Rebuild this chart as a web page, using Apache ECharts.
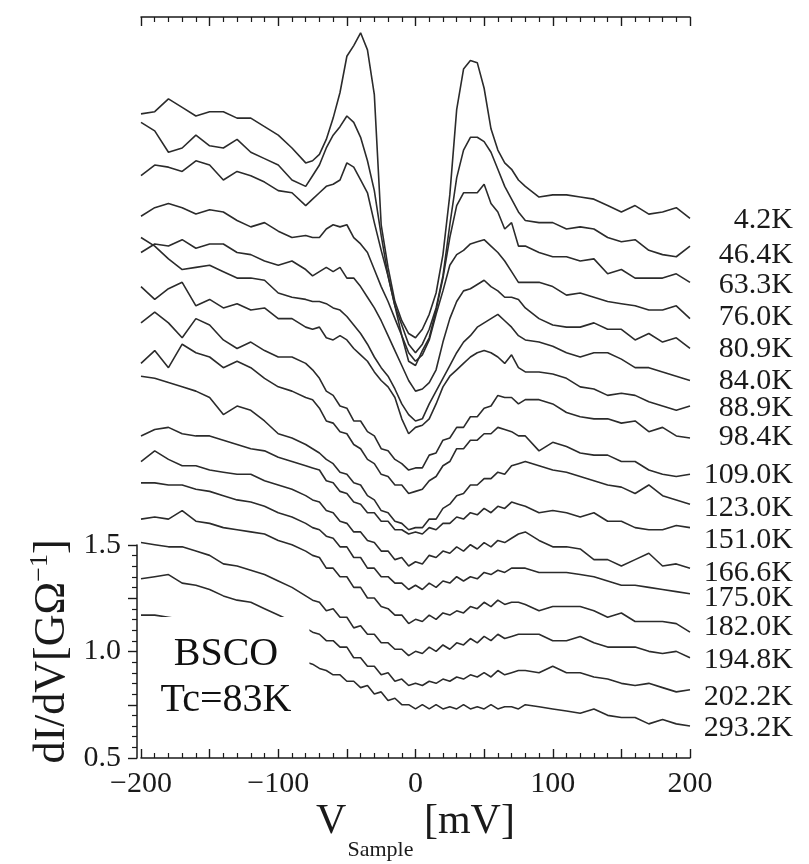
<!DOCTYPE html>
<html><head><meta charset="utf-8">
<script src="https://cdn.jsdelivr.net/npm/echarts@6/dist/echarts.min.js"></script>
<style>html,body{margin:0;padding:0;background:#fff}#chart{width:809px;height:864px}</style>
</head><body><div id="chart"></div>
<script>
// Sample bias (mV)
const voltage = [-200,-190,-180,-170,-160,-150,-140,-130,-120,-110,-100,-90,-80,
  -75,-70,-65,-60,-55,-50,-45,-40,-35,-30,-25,-20,-15,-10,-5,0,5,10,15,20,25,30,35,40,45,50,55,60,65,70,75,
  80,90,100,110,120,130,140,150,160,170,180,190,200];

const temps = ['4.2K','46.4K','63.3K','76.0K','80.9K','84.0K','88.9K','98.4K','109.0K','123.0K','151.0K','166.6K','175.0K','182.0K','194.8K','202.2K','293.2K'];

// dI/dV curves (offset for clarity, as plotted)
const c01 = [3.52,3.53,3.59,3.55,3.51,3.53,3.53,3.50,3.50,3.46,3.42,3.36,3.29,
  3.30,3.33,3.40,3.50,3.62,3.79,3.84,3.90,3.82,3.61,3.00,2.80,2.64,2.55,2.49,2.47,2.51,2.58,2.68,2.86,3.14,3.54,3.73,3.77,3.76,3.64,3.45,3.35,3.29,3.26,3.21,
  3.18,3.13,3.14,3.14,3.13,3.12,3.09,3.06,3.09,3.05,3.06,3.08,3.03];
const c02 = [3.48,3.44,3.34,3.36,3.42,3.37,3.36,3.40,3.34,3.31,3.28,3.21,3.18,
  3.23,3.28,3.36,3.42,3.46,3.51,3.48,3.41,3.30,3.16,2.95,2.76,2.62,2.53,2.44,2.40,2.44,2.51,2.61,2.76,3.00,3.22,3.35,3.41,3.41,3.39,3.34,3.26,3.18,3.12,3.06,
  3.02,3.01,3.01,2.98,2.99,2.98,2.94,2.92,2.93,2.88,2.86,2.85,2.90];
const c03 = [3.23,3.28,3.27,3.25,3.30,3.28,3.21,3.25,3.23,3.20,3.16,3.15,3.09,
  3.12,3.15,3.18,3.19,3.21,3.29,3.27,3.21,3.15,3.01,2.88,2.76,2.62,2.48,2.36,2.34,2.41,2.47,2.60,2.75,2.94,3.09,3.15,3.15,3.15,3.19,3.10,3.06,2.98,3.01,2.90,
  2.90,2.87,2.85,2.85,2.83,2.84,2.77,2.79,2.75,2.75,2.75,2.77,2.73];
const c04 = [3.04,3.08,3.10,3.08,3.05,3.07,3.06,3.02,2.99,3.01,2.97,2.94,2.95,
  2.94,2.94,2.98,3.00,2.99,3.00,2.94,2.91,2.87,2.79,2.71,2.64,2.56,2.48,2.40,2.36,2.39,2.46,2.58,2.69,2.81,2.86,2.88,2.91,2.92,2.93,2.90,2.87,2.83,2.78,2.73,
  2.73,2.73,2.71,2.67,2.68,2.66,2.64,2.63,2.62,2.60,2.60,2.62,2.56];
const c05 = [2.87,2.91,2.90,2.93,2.89,2.91,2.91,2.87,2.86,2.83,2.81,2.83,2.79,
  2.76,2.78,2.80,2.78,2.80,2.75,2.75,2.71,2.66,2.61,2.55,2.48,2.41,2.34,2.27,2.22,2.23,2.26,2.32,2.45,2.56,2.64,2.69,2.70,2.72,2.74,2.71,2.69,2.66,2.66,2.65,
  2.61,2.56,2.53,2.52,2.52,2.54,2.51,2.51,2.46,2.49,2.45,2.47,2.42];
const c06 = [2.94,2.90,2.84,2.79,2.80,2.81,2.78,2.75,2.75,2.74,2.68,2.66,2.65,
  2.64,2.64,2.63,2.61,2.60,2.57,2.53,2.49,2.44,2.38,2.33,2.29,2.23,2.16,2.11,2.08,2.09,2.16,2.22,2.28,2.34,2.40,2.45,2.48,2.52,2.54,2.56,2.58,2.55,2.52,2.48,
  2.46,2.45,2.43,2.40,2.38,2.40,2.40,2.37,2.33,2.33,2.31,2.29,2.27];
const c07 = [2.71,2.65,2.70,2.73,2.62,2.65,2.61,2.63,2.60,2.61,2.56,2.56,2.52,
  2.51,2.52,2.47,2.46,2.48,2.46,2.42,2.39,2.36,2.31,2.27,2.24,2.19,2.09,2.02,2.05,2.06,2.09,2.16,2.24,2.29,2.32,2.35,2.38,2.40,2.41,2.40,2.38,2.35,2.39,2.33,
  2.31,2.31,2.30,2.28,2.24,2.23,2.20,2.21,2.20,2.17,2.15,2.13,2.15];
const c08 = [2.54,2.59,2.54,2.47,2.56,2.53,2.46,2.42,2.45,2.41,2.38,2.38,2.35,
  2.32,2.28,2.22,2.20,2.15,2.14,2.08,2.08,2.03,2.01,1.95,1.94,1.90,1.88,1.85,1.86,1.86,1.92,1.93,1.99,2.00,2.05,2.05,2.10,2.10,2.14,2.15,2.20,2.19,2.19,2.16,
  2.18,2.18,2.16,2.12,2.10,2.09,2.09,2.07,2.08,2.03,2.05,2.01,2.00];
const c09 = [2.35,2.41,2.33,2.44,2.40,2.38,2.33,2.36,2.33,2.28,2.24,2.22,2.19,
  2.18,2.14,2.08,2.07,2.03,2.02,1.97,1.95,1.90,1.88,1.83,1.82,1.78,1.78,1.74,1.75,1.76,1.80,1.82,1.87,1.89,1.95,1.95,1.99,1.99,2.02,2.02,2.05,2.04,2.03,2.01,
  2.01,1.94,1.98,1.96,1.93,1.92,1.92,1.89,1.89,1.85,1.83,1.82,1.83];
const c10 = [2.29,2.28,2.26,2.24,2.22,2.19,2.11,2.15,2.13,2.08,2.02,2.00,1.97,
  1.95,1.93,1.90,1.88,1.84,1.83,1.79,1.78,1.73,1.71,1.66,1.65,1.61,1.60,1.57,1.58,1.58,1.62,1.62,1.67,1.69,1.73,1.74,1.78,1.78,1.81,1.81,1.84,1.83,1.87,1.88,
  1.89,1.87,1.85,1.84,1.82,1.80,1.78,1.77,1.74,1.78,1.73,1.71,1.69];
const c11 = [2.01,2.04,2.05,2.02,2.01,2.01,1.99,1.97,1.95,1.94,1.91,1.89,1.87,
  1.86,1.85,1.80,1.79,1.75,1.74,1.70,1.69,1.65,1.65,1.61,1.61,1.57,1.57,1.55,1.56,1.55,1.58,1.57,1.60,1.60,1.63,1.62,1.65,1.64,1.67,1.65,1.68,1.67,1.70,1.69,
  1.68,1.65,1.66,1.65,1.63,1.65,1.61,1.61,1.58,1.57,1.57,1.59,1.58];
const c12 = [1.89,1.94,1.90,1.87,1.87,1.85,1.84,1.83,1.83,1.80,1.78,1.76,1.73,
  1.71,1.70,1.66,1.65,1.61,1.60,1.56,1.56,1.52,1.51,1.47,1.47,1.43,1.44,1.40,1.42,1.41,1.45,1.44,1.47,1.46,1.49,1.47,1.50,1.48,1.51,1.49,1.52,1.51,1.53,1.55,
  1.56,1.52,1.49,1.49,1.48,1.43,1.43,1.40,1.43,1.46,1.40,1.41,1.39];
const c13 = [1.79,1.79,1.78,1.78,1.76,1.75,1.73,1.71,1.70,1.68,1.65,1.63,1.60,
  1.58,1.57,1.54,1.53,1.49,1.49,1.44,1.44,1.39,1.39,1.35,1.35,1.32,1.32,1.29,1.31,1.29,1.32,1.30,1.33,1.32,1.35,1.33,1.35,1.34,1.37,1.36,1.38,1.37,1.39,1.39,
  1.39,1.37,1.37,1.37,1.36,1.35,1.33,1.31,1.31,1.30,1.29,1.28,1.27];
const c14 = [1.62,1.63,1.62,1.66,1.61,1.60,1.58,1.57,1.56,1.55,1.52,1.50,1.47,
  1.45,1.44,1.39,1.39,1.35,1.35,1.30,1.30,1.25,1.25,1.21,1.20,1.17,1.17,1.13,1.15,1.14,1.17,1.15,1.18,1.17,1.19,1.18,1.21,1.20,1.23,1.21,1.24,1.22,1.23,1.23,
  1.22,1.19,1.21,1.21,1.21,1.19,1.16,1.18,1.14,1.14,1.14,1.13,1.09];
const c15 = [1.51,1.50,1.49,1.49,1.47,1.45,1.41,1.40,1.38,1.36,1.33,1.30,1.26,
  1.24,1.23,1.19,1.20,1.16,1.16,1.11,1.12,1.08,1.08,1.04,1.04,1.01,1.01,0.98,1.00,0.99,1.02,1.00,1.03,1.01,1.04,1.03,1.06,1.04,1.07,1.05,1.08,1.06,1.07,1.08,
  1.08,1.08,1.05,1.05,1.07,1.04,1.02,1.02,1.02,1.00,0.99,1.00,0.97];
const c16 = [1.34,1.35,1.36,1.32,1.31,1.29,1.26,1.24,1.23,1.20,1.17,1.14,1.11,
  1.09,1.08,1.05,1.05,1.02,1.02,0.97,0.97,0.93,0.93,0.89,0.90,0.86,0.87,0.84,0.85,0.84,0.86,0.85,0.87,0.86,0.88,0.87,0.89,0.88,0.90,0.88,0.91,0.89,0.90,0.91,
  0.91,0.90,0.93,0.90,0.90,0.88,0.87,0.85,0.84,0.85,0.83,0.81,0.82];
const c17 = [1.17,1.17,1.16,1.15,1.13,1.11,1.09,1.06,1.04,1.03,1.00,0.98,0.95,
  0.94,0.92,0.91,0.89,0.89,0.86,0.86,0.83,0.84,0.80,0.81,0.77,0.78,0.75,0.75,0.73,0.75,0.73,0.75,0.73,0.74,0.73,0.75,0.73,0.74,0.73,0.75,0.73,0.74,0.74,0.73,
  0.75,0.74,0.73,0.72,0.71,0.73,0.70,0.69,0.69,0.66,0.68,0.66,0.65];

const curves = [c01,c02,c03,c04,c05,c06,c07,c08,c09,c10,c11,c12,c13,c14,c15,c16,c17];
const labelShift = [2,9,3,-1,1,1,2,-1,1,4,12,5,4,-5,2,7,2];

const SERIF = 'Liberation Serif';
const INK = '#1a1a1a';

const chart = echarts.init(document.getElementById('chart'), null, {renderer: 'canvas'});

const tickAxisCommon = {
  type: 'value', min: -200, max: 200, interval: 50,
  axisLine: { show: true, onZero: false, lineStyle: { color: INK, width: 1.5 } },
  axisTick: { show: true, inside: true, length: 9, lineStyle: { color: INK, width: 1.4 } },
  minorTick: { show: true, splitNumber: 5, length: 5, lineStyle: { color: INK, width: 1.2 } },
  splitLine: { show: false }, minorSplitLine: { show: false }
};

const option = {
  animation: false,
  backgroundColor: '#fff',
  title: {
    text: 'BSCO\nTc=83K',
    left: 208, top: 617,
    textAlign: 'center',
    padding: [14, 18, 25, 18],
    backgroundColor: '#fff',
    z: 10,
    textStyle: { fontFamily: SERIF, fontSize: 40, fontWeight: 'normal', color: '#111', lineHeight: 46 }
  },
  grid: [
    { left: 141, right: 119, top: 17, bottom: 106, containLabel: false, outerBoundsMode: 'none' },
    { left: 141, right: 119, top: 545, bottom: 106, containLabel: false, outerBoundsMode: 'none' }
  ],
  xAxis: [
    Object.assign({}, tickAxisCommon, {
      gridIndex: 0, position: 'bottom',
      axisLabel: {
        show: true, margin: 11, fontFamily: SERIF, fontSize: 30, color: INK,
        formatter: v => (v % 100 === 0 ? (v < 0 ? '\u2212' + (-v) : String(v)) : '')
      },
      name: '{v|V}{s|Sample}{v| [mV]}',
      nameLocation: 'middle', nameGap: 43, nameMoveOverlap: false,
      nameTextStyle: {
        rich: {
          v: { fontFamily: SERIF, fontSize: 42, lineHeight: 50, verticalAlign: 'top', color: INK },
          s: { fontFamily: SERIF, fontSize: 22, lineHeight: 22, verticalAlign: 'top', padding: [38, 0, 0, 1], color: INK }
        }
      }
    }),
    Object.assign({}, tickAxisCommon, {
      gridIndex: 0, position: 'top',
      axisLabel: { show: false }
    }),
    { gridIndex: 1, type: 'value', min: -200, max: 200, show: false }
  ],
  yAxis: [
    { gridIndex: 0, type: 'value', min: 0.5, max: 3.974, show: false },
    {
      gridIndex: 1, type: 'value', min: 0.5, max: 1.5, interval: 0.25, position: 'left', offset: 4,
      axisLine: { show: true, onZero: false, lineStyle: { color: INK, width: 1.5 } },
      axisTick: { show: true, inside: false, length: 9, lineStyle: { color: INK, width: 1.4 } },
      minorTick: { show: true, splitNumber: 5, length: 5, lineStyle: { color: INK, width: 1.2 } },
      splitLine: { show: false },
      axisLabel: {
        show: true, margin: 16, fontFamily: SERIF, fontSize: 30, color: INK,
        formatter: v => (Math.round(v * 100) % 50 === 0 ? v.toFixed(1) : '')
      },
      name: 'dI/dV[G\u03A9{sup|\u22121}]',
      nameLocation: 'middle', nameRotate: 90, nameGap: 60, nameMoveOverlap: false,
      nameTextStyle: {
        fontFamily: SERIF, fontSize: 44, color: INK, lineHeight: 50,
        rich: { sup: { fontFamily: SERIF, fontSize: 26, lineHeight: 22, verticalAlign: 'top', color: INK } }
      }
    }
  ],
  series: curves.map((vals, i) => ({
    type: 'line',
    name: temps[i],
    xAxisIndex: 0, yAxisIndex: 0,
    data: voltage.map((v, j) => [v, vals[j]]),
    symbol: 'none', showSymbol: false, silent: true,
    lineStyle: { color: '#2b2b2b', width: 1.6 },
    z: 2,
    endLabel: {
      show: true, formatter: temps[i], align: 'right', verticalAlign: 'middle',
      distance: 0, offset: [103, labelShift[i]],
      fontFamily: SERIF, fontSize: 30, color: INK
    }
  }))
};

chart.setOption(option);
</script></body></html>
